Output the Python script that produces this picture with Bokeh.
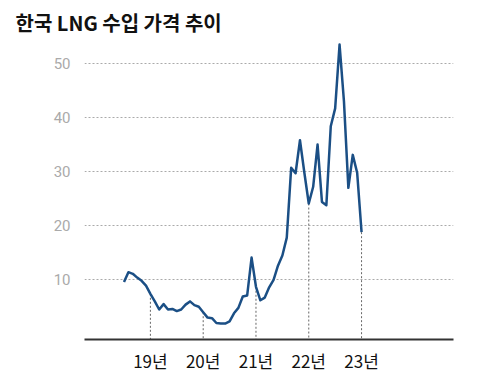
from bokeh.plotting import figure
from bokeh.models import Range1d, FixedTicker, ColumnDataSource
from bokeh.embed import file_html
from bokeh.resources import INLINE

title_text = "한국 LNG 수입 가격 추이"

# monthly index, 0 = 2018-07 ... 54 = 2023-01
months = list(range(55))
price = [9.6, 11.4, 11.1, 10.4, 9.8, 8.9, 7.4, 6.0, 4.5, 5.5,
         4.5, 4.6, 4.2, 4.5, 5.4, 6.0, 5.3, 5.0, 4.0, 3.0,
         2.9, 2.0, 1.9, 1.9, 2.3, 3.8, 4.8, 6.9, 7.1, 14.1,
         8.7, 6.2, 6.7, 8.6, 10.0, 12.6, 14.5, 17.8, 30.7, 29.7,
         35.8, 29.8, 24.1, 27.2, 35.0, 24.4, 23.8, 38.4, 41.7, 53.5,
         43.0, 27.0, 33.1, 29.8, 18.8]

year_ticks = [6, 18, 30, 42, 54]
year_labels = ["19년", "20년", "21년", "22년", "23년"]
y_ticks = [10, 20, 30, 40, 50]

y_bottom = -1.05
p = figure(width=485, height=376, output_backend="svg", toolbar_location=None,
           x_range=Range1d(-8.98, 74.9), y_range=Range1d(y_bottom, 54.07),
           min_border_left=84, min_border_right=32, min_border_top=40,
           min_border_bottom=37, outline_line_color=None,
           background_fill_color="white", border_fill_color="white")

p.title.text = title_text
p.title.text_font = "Noto Sans CJK KR"
p.title.text_font_size = "20px"
p.title.text_font_style = "bold"
p.title.text_color = "#111111"
p.title.align = "left"
p.title.offset = -69

# grid
p.xgrid.visible = False
p.ygrid.ticker = FixedTicker(ticks=y_ticks)
p.ygrid.grid_line_color = "#aaaaaa"
p.ygrid.grid_line_dash = "2 2"
p.ygrid.grid_line_width = 1

# vertical dashed drop lines at each year tick
drop = ColumnDataSource(dict(x=year_ticks, y0=[price[i] for i in year_ticks],
                             y1=[y_bottom] * len(year_ticks)))
p.segment(x0="x", y0="y0", x1="x", y1="y1", source=drop,
          line_color="#666666", line_dash="2 2", line_width=1)

p.line(months, price, line_color="#1b4f85", line_width=2.5, line_join="round")

# axes
xa = p.xaxis[0]
xa.ticker = FixedTicker(ticks=year_ticks)
xa.major_label_overrides = {t: l for t, l in zip(year_ticks, year_labels)}
xa.axis_line_color = "#333333"
xa.axis_line_width = 2
xa.major_tick_line_color = None
xa.major_tick_out = 0
xa.major_tick_in = 0
xa.minor_tick_line_color = None
xa.minor_tick_out = 0
xa.major_label_text_font = "Noto Sans CJK KR"
xa.major_label_text_font_size = "17px"
xa.major_label_text_color = "#111111"
xa.major_label_standoff = 8

ya = p.yaxis[0]
ya.ticker = FixedTicker(ticks=y_ticks)
ya.axis_line_color = None
ya.major_tick_line_color = None
ya.major_tick_out = 0
ya.major_tick_in = 0
ya.minor_tick_line_color = None
ya.minor_tick_out = 0
ya.major_label_text_font = "Roboto"
ya.major_label_text_font_size = "15px"
ya.major_label_text_color = "#aaaaaa"
ya.major_label_standoff = 14

open("out.html", "w").write(file_html(p, INLINE))
